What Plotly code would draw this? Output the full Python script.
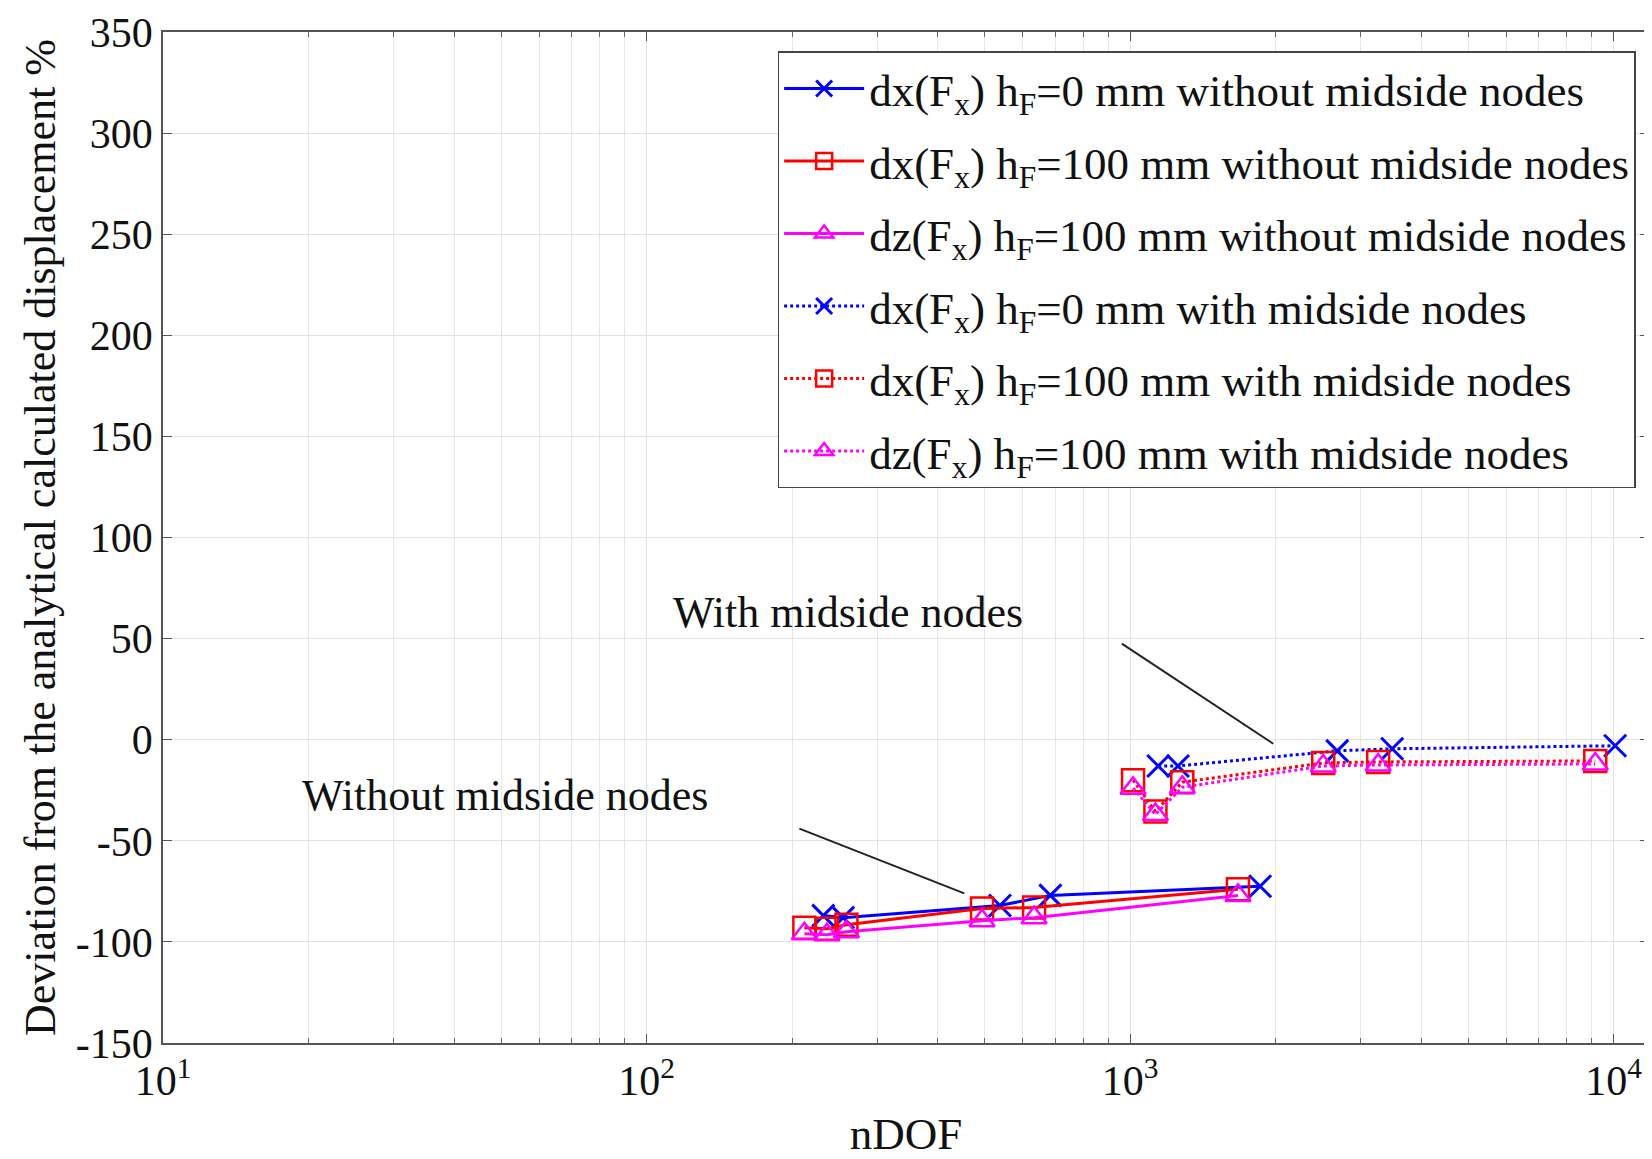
import numpy as np
import plotly.graph_objects as go

# ---------------- data ----------------
# Without midside nodes (solid lines)
ndof_h0_wo = [232, 255, 538, 684, 1857]
dx_h0_wo = [-87, -88, -82, -77, -72.5]

ndof_h100_wo = [212, 236, 259, 494, 633, 1671]
dx_h100_wo = [-93, -93.5, -91.5, -83.5, -83, -74]
dz_h100_wo = [-96, -96.5, -95, -89.5, -88, -77]

# With midside nodes (dotted lines)
ndof_h0_w = [1143, 1256, 2681, 3483, 10070]
dx_h0_w = [-13, -13, -5.5, -4.5, -3]

ndof_h100_w = [1014, 1128, 1282, 2508, 3258, 9160]
dx_h100_w = [-20, -35.5, -21, -11.5, -11, -10.5]
dz_h100_w = [-24, -37, -23.5, -13, -12.5, -12]

legend_names = [
    "dx(F<sub>x</sub>) h<sub>F</sub>=0 mm without midside nodes",
    "dx(F<sub>x</sub>) h<sub>F</sub>=100 mm without midside nodes",
    "dz(F<sub>x</sub>) h<sub>F</sub>=100 mm without midside nodes",
    "dx(F<sub>x</sub>) h<sub>F</sub>=0 mm with midside nodes",
    "dx(F<sub>x</sub>) h<sub>F</sub>=100 mm with midside nodes",
    "dz(F<sub>x</sub>) h<sub>F</sub>=100 mm with midside nodes",
]

y_ticks = [-150, -100, -50, 0, 50, 100, 150, 200, 250, 300, 350]
y_tick_text = ["-150", "-100", "-50", "0", "50", "100", "150", "200", "250", "300", "350"]
x_decades = [1, 2, 3, 4]

# annotation positions (data space)
label_with = ("With midside nodes", 261, 63)
leader_with_x = [961, 1977]
leader_with_y = [47.5, -2]
label_without = ("Without midside nodes", 51, -27.5)
leader_without_x = [207, 454]
leader_without_y = [-44, -76]

# ---------------- figure ----------------
FONT = "Liberation Serif, Times New Roman, serif"
fig = go.Figure()

def add(x, y, name, color, symbol, dash, grp):
    if symbol == "x-thin-open":
        mk = dict(symbol=symbol, size=22, color=color, line=dict(width=3, color=color))
    else:
        mk = dict(symbol=symbol, size=22, color=color, line=dict(width=2.5, color=color))
    fig.add_trace(go.Scatter(x=x, y=y, name=name, mode="lines+markers", legendgroup=grp,
                             line=dict(color=color, width=3, dash=dash), marker=mk))

add(ndof_h0_wo, dx_h0_wo, legend_names[0], "#0000ff", "x-thin-open", "solid", "g1")
add(ndof_h100_wo, dx_h100_wo, legend_names[1], "#ff0000", "square-open", "solid", "g2")
add(ndof_h100_wo, dz_h100_wo, legend_names[2], "#ff00ff", "triangle-up-open", "solid", "g3")
add(ndof_h0_w, dx_h0_w, legend_names[3], "#0000ff", "x-thin-open", "dot", "g4")
add(ndof_h100_w, dx_h100_w, legend_names[4], "#ff0000", "square-open", "dot", "g5")
add(ndof_h100_w, dz_h100_w, legend_names[5], "#ff00ff", "triangle-up-open", "dot", "g6")

# leader lines
for lx, ly in [(leader_with_x, leader_with_y), (leader_without_x, leader_without_y)]:
    fig.add_trace(go.Scatter(x=lx, y=ly, mode="lines", showlegend=False,
                             line=dict(color="#222222", width=2), hoverinfo="skip"))

for text, xv, yv in [label_with, label_without]:
    fig.add_annotation(x=np.log10(xv), y=yv, text=text, showarrow=False,
                       xref="x", yref="y", font=dict(family=FONT, size=44, color="#111"))

# x ticks: decades labelled, minor positions as gridlines
xt_vals = [10 ** d for d in x_decades]
xt_text = [f"10<sup>{d}</sup>" for d in x_decades]
x_minor = [m * 10 ** d for d in x_decades[:-1] for m in range(2, 10)]

# page body has an 8px default margin, so the figure is 8px smaller
fig.update_layout(
    width=1644, height=1151,
    margin=dict(l=155, r=3, t=24, b=116),
    paper_bgcolor="white", plot_bgcolor="white",
    font=dict(family=FONT, color="#111", size=40),
    showlegend=True,
    legend=dict(x=0.991, y=0.981, xanchor="right", yanchor="top",
                bgcolor="white", bordercolor="#444", borderwidth=1.5,
                font=dict(family=FONT, size=45, color="#111"),
                itemwidth=80, tracegroupgap=11),
    xaxis=dict(type="log", range=[1, 4.073], automargin=False,
               tickvals=xt_vals, ticktext=xt_text,
               minor=dict(tickvals=x_minor, showgrid=True, gridcolor="#e6e6e6",
                          ticks="inside", ticklen=5, tickcolor="#666"),
               showgrid=True, gridcolor="#e3e3e3", gridwidth=1,
               ticks="inside", ticklen=9, tickcolor="#555",
               showline=True, linecolor="#555", linewidth=1.5, mirror="ticks",
               zeroline=False,
               tickfont=dict(family=FONT, size=42, color="#111"),
               title=dict(text="nDOF", font=dict(family=FONT, size=45, color="#111"), standoff=18)),
    yaxis=dict(range=[-150, 350], automargin=False,
               tickvals=y_ticks, ticktext=y_tick_text,
               showgrid=True, gridcolor="#e3e3e3", gridwidth=1,
               ticks="inside", ticklen=9, tickcolor="#555",
               showline=True, linecolor="#555", linewidth=1.5, mirror="ticks",
               zeroline=False,
               tickfont=dict(family=FONT, size=42, color="#111"),
               title=dict(text="Deviation from the analytical calculated displacement %",
                          font=dict(family=FONT, size=44, color="#111"), standoff=6)),
)

fig.write_html("out.html")
